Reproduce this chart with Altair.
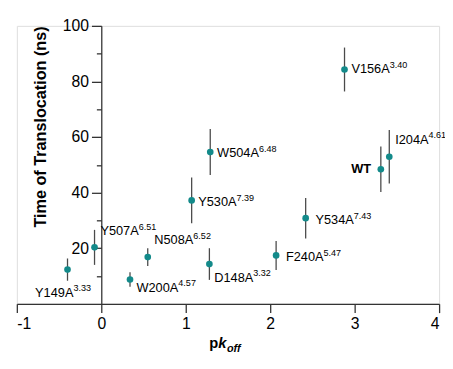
import altair as alt
import pandas as pd

# ---- data ----
names = ["Y149A", "Y507A", "W200A", "N508A", "D148A", "Y530A",
         "F240A", "Y534A", "W504A", "V156A", "I204A", "WT"]
sups = ["3.33", "6.51", "4.57", "6.52", "3.32", "7.39",
        "5.47", "7.43", "6.48", "3.40", "4.61", ""]
pkoff = [-0.40, -0.08, 0.34, 0.55, 1.28, 1.07, 2.07, 2.42, 1.29, 2.88, 3.41, 3.31]
ttime = [12.3, 20.3, 8.75, 16.8, 14.3, 37.2, 17.4, 30.8, 54.6, 84.3, 52.9, 48.4]
terr = [4.0, 6.3, 2.6, 3.2, 5.7, 8.2, 5.2, 7.3, 8.3, 7.9, 9.6, 8.2]

x_ticks = [-1, 0, 1, 2, 3, 4]
y_ticks = [20, 40, 60, 80, 100]
y_minor = [10, 30, 50, 70, 90]

# ---- label placement (pixel offsets from each point) ----
label_dx = [-33, 6, 6.6, 6.7, 5, 6.7, 10, 10, 7, 7, 6, -10]
label_dy = [27.6, -12.3, 12.6, -13, 18, 5.7, 6, 6.4, 5, 4, -13.4, 4]

W, H = 430, 283
FONT = "Liberation Sans"
TEAL = "#138a8a"
AX = "#333333"

df = pd.DataFrame({
    "name": names, "sup": sups, "x": pkoff, "y": ttime,
    "lo": [t - e for t, e in zip(ttime, terr)],
    "hi": [t + e for t, e in zip(ttime, terr)],
})

# Arial / Liberation Sans advance widths (em)
CW = {"A": .667, "D": .722, "F": .611, "I": .278, "N": .722, "W": .944,
      "V": .667, "Y": .667, "T": .611, ".": .278}
def text_w(s, size):
    return sum(CW.get(c, .556) for c in s) * size

xscale = alt.Scale(domain=[-1, 4], nice=False, zero=False)
yscale = alt.Scale(domain=[0, 100], nice=False, zero=False)

base = alt.Chart(df)

X = alt.X("x:Q", scale=xscale,
          axis=alt.Axis(values=x_ticks, title=None, grid=False, tickSize=9,
                        labelFontSize=16, labelFont=FONT, labelColor="black",
                        labelPadding=3, domainColor=AX, tickColor=AX,
                        domainWidth=1.3, tickWidth=1.3,
                        labelExpr="'' + datum.value"))
Xn = alt.X("x:Q", scale=xscale)
Yn = alt.Y("y:Q", scale=yscale, axis=None)

errbars = base.mark_rule(color="#4a4a4a", strokeWidth=1.3).encode(
    x=X,
    y=alt.Y("lo:Q", scale=yscale,
            axis=alt.Axis(values=y_ticks, orient="left", offset=-86, grid=False,
                          tickSize=10, labelFontSize=16, labelFont=FONT,
                          labelColor="black", labelPadding=3,
                          domainColor=AX, tickColor=AX, domainWidth=1.3, tickWidth=1.3,
                          title="Time of Translocation (ns)", titleFont=FONT,
                          titleFontSize=16.5, titleFontWeight="bold",
                          titleColor="black", titlePadding=14, titleAnchor="end")),
    y2="hi:Q")

points = base.mark_circle(size=46, color=TEAL, opacity=1).encode(x=Xn, y=Yn)

minor = alt.Chart(pd.DataFrame({"m": y_minor, "z": [0] * len(y_minor)})).mark_point(
    opacity=0).encode(
    x=alt.X("z:Q", scale=xscale),
    y=alt.Y("m:Q", scale=yscale,
            axis=alt.Axis(values=y_minor, orient="left", offset=-86, grid=False,
                          labels=False, domain=False, tickSize=5, title=None,
                          tickColor=AX, tickWidth=1.3)))

layers = [errbars, points]
for i, n in enumerate(names):
    bold = n == "WT"
    main = base.transform_filter(alt.datum.name == n).mark_text(
        align="right" if bold else "left", baseline="alphabetic",
        dx=label_dx[i], dy=label_dy[i], fontSize=13, font=FONT,
        fontWeight="bold" if bold else "normal", color="black").encode(
        x=Xn, y=Yn, text="name:N")
    layers.append(main)
    if sups[i]:
        sup = base.transform_filter(alt.datum.name == n).mark_text(
            align="left", baseline="alphabetic",
            dx=label_dx[i] + text_w(n, 13), dy=label_dy[i] - 5.5,
            fontSize=9.2, font=FONT, color="black").encode(
            x=Xn, y=Yn, text="sup:N")
        layers.append(sup)

# x-axis title: p k_off
tx0 = W / 2 - 19
ty = H + 45
title_df = pd.DataFrame({"t": [0]})
tp = alt.Chart(title_df).mark_text(align="left", baseline="alphabetic", fontSize=15,
                                   fontWeight="bold", font=FONT, color="black").encode(
    x=alt.value(tx0), y=alt.value(ty), text=alt.value("p"))
tk = alt.Chart(title_df).mark_text(align="left", baseline="alphabetic", fontSize=15,
                                   fontWeight="bold", fontStyle="italic", font=FONT,
                                   color="black").encode(
    x=alt.value(tx0 + text_w("p", 15) * 1.1), y=alt.value(ty), text=alt.value("k"))
toff = alt.Chart(title_df).mark_text(align="left", baseline="alphabetic", fontSize=11,
                                     fontWeight="bold", fontStyle="italic", font=FONT,
                                     color="black").encode(
    x=alt.value(tx0 + text_w("p", 15) * 1.1 + text_w("k", 15) * 1.05),
    y=alt.value(ty + 4), text=alt.value("off"))

layers += [minor, tp, tk, toff]

chart = alt.layer(*layers).resolve_axis(y="independent").properties(
    width=W, height=H,
    autosize=alt.AutoSizeParams(type="none"),
    padding={"left": 9, "top": 15, "right": 6, "bottom": 52},
).configure_view(stroke=None).configure(font=FONT)

chart.save("out.html", embed_options={"renderer": "svg", "actions": False})
